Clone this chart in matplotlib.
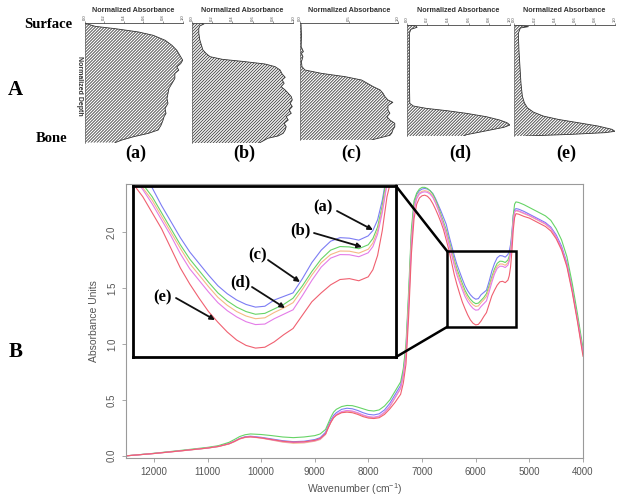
import matplotlib
matplotlib.use("Agg")
import matplotlib.pyplot as plt
from matplotlib.patches import Rectangle
from matplotlib.lines import Line2D
from matplotlib.collections import LineCollection

plt.rcParams['font.family'] = ['Liberation Sans', 'DejaVu Sans']
plt.rcParams['mathtext.default'] = 'regular'

W, H = 624, 501

# ---------------- DATA ----------------
wavenumber = [12500, 12000, 11500, 11000, 10800, 10600, 10500, 10400, 10300, 10200,
              10000, 9800, 9600, 9400, 9200, 9000, 8900, 8800, 8750, 8700,
              8650, 8600, 8500, 8400, 8300, 8200, 8100, 8000, 7900, 7800,
              7700, 7600, 7500, 7400, 7350, 7300, 7250, 7200, 7150, 7100,
              7050, 7000, 6950, 6900, 6850, 6800, 6750, 6700, 6650, 6600,
              6550, 6500, 6450, 6400, 6350, 6300, 6250, 6200, 6150, 6100,
              6050, 6000, 5950, 5900, 5850, 5800, 5750, 5700, 5650, 5600,
              5550, 5500, 5450, 5400, 5375, 5350, 5325, 5300, 5275, 5250,
              5200, 5100, 5000, 4900, 4800, 4700, 4600, 4500, 4400, 4300,
              4200, 4100, 4000]

spec_a = [0.0, 0.021, 0.045, 0.07, 0.085, 0.11, 0.13, 0.155, 0.17, 0.175,
          0.165, 0.15, 0.135, 0.126, 0.13, 0.145, 0.162, 0.21, 0.27, 0.32,
          0.36, 0.385, 0.415, 0.425, 0.42, 0.405, 0.385, 0.37, 0.365, 0.375,
          0.41, 0.47, 0.55, 0.63, 0.75, 0.96, 1.42, 1.97, 2.25, 2.335,
          2.37, 2.385, 2.39, 2.385, 2.37, 2.345, 2.30, 2.245, 2.19, 2.13,
          2.07, 1.97, 1.88, 1.79, 1.71, 1.645, 1.58, 1.52, 1.475, 1.44,
          1.415, 1.40, 1.405, 1.44, 1.46, 1.48, 1.56, 1.65, 1.72, 1.77,
          1.79, 1.787, 1.776, 1.80, 1.83, 1.89, 2.00, 2.15, 2.20, 2.21,
          2.205, 2.185, 2.16, 2.135, 2.11, 2.085, 2.045, 1.975, 1.875, 1.725,
          1.495, 1.225, 0.93]

spec_b = [0.0, 0.022, 0.048, 0.075, 0.09, 0.12, 0.145, 0.172, 0.188, 0.195,
          0.19, 0.18, 0.168, 0.162, 0.168, 0.18, 0.195, 0.235, 0.29, 0.345,
          0.39, 0.415, 0.44, 0.45, 0.448, 0.435, 0.42, 0.405, 0.40, 0.41,
          0.445, 0.50, 0.58, 0.66, 0.78, 1.0, 1.48, 2.02, 2.28, 2.35,
          2.385, 2.40, 2.40, 2.39, 2.37, 2.34, 2.29, 2.23, 2.16, 2.09,
          2.02, 1.93, 1.84, 1.75, 1.67, 1.605, 1.54, 1.48, 1.435, 1.40,
          1.375, 1.36, 1.365, 1.39, 1.415, 1.45, 1.52, 1.60, 1.67, 1.72,
          1.74, 1.738, 1.728, 1.75, 1.785, 1.85, 1.97, 2.15, 2.25, 2.27,
          2.265, 2.245, 2.22, 2.195, 2.17, 2.145, 2.105, 2.03, 1.93, 1.78,
          1.54, 1.26, 0.96]

spec_c = [0.0, 0.02, 0.043, 0.068, 0.082, 0.105, 0.125, 0.15, 0.163, 0.168,
          0.158, 0.14, 0.122, 0.112, 0.115, 0.13, 0.145, 0.19, 0.25, 0.30,
          0.34, 0.365, 0.39, 0.40, 0.395, 0.38, 0.36, 0.345, 0.34, 0.35,
          0.385, 0.44, 0.52, 0.60, 0.72, 0.92, 1.38, 1.92, 2.22, 2.31,
          2.35, 2.365, 2.37, 2.365, 2.35, 2.32, 2.27, 2.21, 2.14, 2.07,
          2.00, 1.91, 1.82, 1.73, 1.645, 1.58, 1.515, 1.455, 1.41, 1.375,
          1.35, 1.335, 1.34, 1.37, 1.395, 1.425, 1.50, 1.58, 1.65, 1.695,
          1.715, 1.714, 1.703, 1.725, 1.76, 1.83, 1.95, 2.10, 2.18, 2.19,
          2.185, 2.165, 2.145, 2.12, 2.095, 2.07, 2.03, 1.955, 1.855, 1.705,
          1.475, 1.205, 0.91]

spec_d = [0.0, 0.02, 0.044, 0.069, 0.083, 0.107, 0.128, 0.152, 0.166, 0.17,
          0.16, 0.143, 0.127, 0.118, 0.122, 0.135, 0.15, 0.195, 0.255, 0.305,
          0.345, 0.37, 0.395, 0.405, 0.40, 0.385, 0.365, 0.35, 0.345, 0.355,
          0.39, 0.445, 0.525, 0.605, 0.72, 0.90, 1.34, 1.88, 2.19, 2.30,
          2.34, 2.355, 2.36, 2.355, 2.34, 2.31, 2.26, 2.20, 2.13, 2.06,
          1.98, 1.89, 1.80, 1.70, 1.615, 1.55, 1.485, 1.425, 1.38, 1.345,
          1.318, 1.302, 1.305, 1.335, 1.36, 1.385, 1.465, 1.55, 1.625, 1.675,
          1.695, 1.694, 1.683, 1.705, 1.74, 1.81, 1.93, 2.09, 2.18, 2.195,
          2.19, 2.17, 2.15, 2.125, 2.10, 2.075, 2.035, 1.96, 1.86, 1.71,
          1.48, 1.21, 0.92]

spec_e = [0.0, 0.02, 0.044, 0.069, 0.083, 0.107, 0.128, 0.152, 0.166, 0.17,
          0.16, 0.145, 0.13, 0.122, 0.125, 0.138, 0.155, 0.195, 0.25, 0.30,
          0.34, 0.362, 0.385, 0.39, 0.385, 0.37, 0.35, 0.337, 0.333, 0.34,
          0.37, 0.42, 0.48, 0.55, 0.65, 0.82, 1.25, 1.80, 2.12, 2.25,
          2.305, 2.325, 2.33, 2.32, 2.295, 2.255, 2.205, 2.15, 2.09, 2.02,
          1.93, 1.84, 1.73, 1.62, 1.53, 1.45, 1.375, 1.315, 1.26, 1.215,
          1.185, 1.17, 1.175, 1.205, 1.245, 1.28, 1.355, 1.43, 1.48, 1.525,
          1.555, 1.56, 1.548, 1.57, 1.61, 1.69, 1.83, 2.02, 2.13, 2.165,
          2.16, 2.14, 2.125, 2.10, 2.075, 2.05, 2.01, 1.94, 1.84, 1.69,
          1.46, 1.19, 0.89]

series_labels = ['(a)', '(b)', '(c)', '(d)', '(e)']
series_colors = ['#7c7cf4', '#66d466', '#f5b985', '#e47ce8', '#f06070']

# depth profiles (normalized depth 0 = surface, 1 = bone)
depth_a = [0.0, 0.006, 0.028, 0.047, 0.075, 0.103, 0.144, 0.186, 0.228, 0.269,
           0.311, 0.339, 0.367, 0.394, 0.422, 0.464, 0.506, 0.547, 0.589, 0.631,
           0.672, 0.714, 0.756, 0.783, 0.811, 0.853, 0.894, 0.922, 0.95, 0.978, 1.0]
abs_a = [0.0, 0.02, 0.11, 0.31, 0.55, 0.70, 0.82, 0.89, 0.94, 0.97,
         1.0, 0.98, 0.94, 0.96, 0.92, 0.92, 0.89, 0.86, 0.85, 0.84,
         0.85, 0.82, 0.83, 0.81, 0.80, 0.78, 0.75, 0.65, 0.50, 0.38, 0.31]

depth_b = [0.0, 0.006, 0.022, 0.042, 0.083, 0.139, 0.194, 0.222, 0.25, 0.278,
           0.3, 0.319, 0.339, 0.361, 0.389, 0.422, 0.45, 0.472, 0.5, 0.528,
           0.556, 0.583, 0.611, 0.639, 0.667, 0.694, 0.722, 0.75, 0.778, 0.806,
           0.833, 0.861, 0.889, 0.917, 0.939, 0.958, 1.0]
abs_b = [0.10, 0.12, 0.08, 0.07, 0.07, 0.08, 0.10, 0.11, 0.14, 0.18,
         0.30, 0.52, 0.72, 0.82, 0.87, 0.89, 0.92, 0.89, 0.91, 0.88,
         0.92, 0.95, 0.98, 0.99, 0.97, 0.99, 0.96, 0.98, 0.93, 0.95,
         0.91, 0.93, 0.92, 0.90, 0.85, 0.75, 0.66]

depth_c = [0.0, 0.1, 0.2, 0.243, 0.257, 0.286, 0.329, 0.371, 0.4, 0.429,
           0.457, 0.486, 0.543, 0.571, 0.6, 0.629, 0.657, 0.677, 0.706, 0.743,
           0.771, 0.8, 0.829, 0.857, 0.886, 0.914, 0.94, 0.96, 1.0]
abs_c = [0.01, 0.015, 0.012, 0.035, 0.015, 0.03, 0.015, 0.02, 0.05, 0.22,
         0.46, 0.63, 0.75, 0.82, 0.85, 0.87, 0.90, 0.95, 0.90, 0.90,
         0.92, 0.89, 0.92, 0.97, 0.97, 0.95, 0.94, 0.92, 0.73]

depth_d = [0.0, 0.009, 0.021, 0.039, 0.075, 0.3, 0.5, 0.706, 0.730, 0.751,
           0.772, 0.796, 0.826, 0.856, 0.880, 0.901, 0.922, 0.946, 0.970, 0.988, 1.0]
abs_d = [0.02, 0.09, 0.10, 0.04, 0.026, 0.026, 0.026, 0.03, 0.065, 0.19,
         0.39, 0.58, 0.77, 0.90, 0.97, 1.0, 0.94, 0.81, 0.68, 0.58, 0.55]

depth_e = [0.0, 0.015, 0.027, 0.075, 0.224, 0.373, 0.522, 0.642, 0.701, 0.746,
           0.785, 0.821, 0.851, 0.881, 0.910, 0.940, 0.958, 0.970, 0.985, 0.994, 1.0]
abs_e = [0.02, 0.14, 0.06, 0.04, 0.046, 0.056, 0.066, 0.08, 0.10, 0.13,
         0.19, 0.29, 0.44, 0.64, 0.83, 0.97, 1.0, 0.90, 0.57, 0.30, 0.11]

profile_depths = [depth_a, depth_b, depth_c, depth_d, depth_e]
profile_abs = [abs_a, abs_b, abs_c, abs_d, abs_e]
profile_ticks = [[0, 0.2, 0.4, 0.6, 0.8, 1.0], [0, 0.2, 0.4, 0.6, 0.8, 1.0],
                 [0, 0.5, 1.0], [0, 0.2, 0.4, 0.6, 0.8, 1.0], [0, 0.2, 0.4, 0.6, 0.8, 1.0]]

xticks_main = [12000, 11000, 10000, 9000, 8000, 7000, 6000, 5000, 4000]
yticks_main = [0.0, 0.5, 1.0, 1.5, 2.0]

# ---------------- FIGURE ----------------
fig = plt.figure(figsize=(W / 100, H / 100), dpi=100)
fig.patch.set_facecolor('white')


def rect(l, t, r, b):
    return [l / W, 1 - b / H, (r - l) / W, (b - t) / H]


def P(x, y):
    return (x / W, 1 - y / H)


SERIF = ['Liberation Serif', 'DejaVu Serif']

# ---- Panel A: depth profiles ----
prof_boxes = [(84.5, 23, 182.7, 142.7), (191.7, 23.3, 293.3, 143.3), (300, 23.3, 397.7, 140),
              (406.7, 25, 510, 136), (514.3, 25, 615, 136)]
HATCH_STEP = 3.0  # px between hatch lines (horizontal)
for i, (box, dep, ab, tks) in enumerate(zip(prof_boxes, profile_depths, profile_abs, profile_ticks)):
    axp = fig.add_axes(rect(*box))
    poly = axp.fill_betweenx(dep, 0, ab, facecolor='white', edgecolor='none', linewidth=0)
    # dense diagonal hatch, clipped to the filled area
    wpx = box[2] - box[0]
    hpx = box[3] - box[1]
    n = int((wpx + hpx) / HATCH_STEP) + 2
    segs = []
    for k in range(n):
        x0 = (-hpx + k * HATCH_STEP) / wpx
        segs.append([(x0, 0.0), (x0 + hpx / wpx, 1.0)])
    lc = LineCollection(segs, colors='#4a4a4a', linewidths=0.65, transform=axp.transAxes)
    axp.add_collection(lc)
    lc.set_clip_path(poly.get_paths()[0], poly.get_transform())
    axp.plot(ab, dep, color='#333333', lw=0.6)
    axp.set_xlim(0, 1)
    axp.set_ylim(1, 0)
    for s in ['right', 'bottom']:
        axp.spines[s].set_visible(False)
    axp.spines['top'].set_linewidth(0.6)
    axp.spines['top'].set_color('#444444')
    axp.spines['left'].set_linewidth(0.5)
    axp.spines['left'].set_color('#666666')
    axp.axhline(1, color='#555555', lw=0.6, ls=':')
    axp.xaxis.tick_top()
    axp.set_xticks(tks)
    axp.set_xticklabels(['%.1f' % t for t in tks], rotation=90, fontsize=3)
    axp.tick_params(axis='x', length=1.5, width=0.4, pad=0.5, colors='#444444')
    axp.set_yticks([])
    cx = (box[0] + box[2]) / 2
    fig.text(*P(cx, 10), 'Normalized Absorbance', ha='center', va='center',
             fontsize=5.2, fontweight='bold', color='#333333')
    fig.text(*P(cx + 2, 153), series_labels[i], ha='center', va='center',
             fontsize=13, fontweight='bold', family=SERIF)

fig.text(*P(79, 86), 'Normalized Depth', rotation=-90, ha='center', va='center',
         fontsize=5, fontweight='bold', color='#333333')
fig.text(*P(48, 25), 'Surface', ha='center', va='center', fontsize=10.5,
         fontweight='bold', family=SERIF)
fig.text(*P(52, 138), 'Bone', ha='center', va='center', fontsize=10.5,
         fontweight='bold', family=SERIF)
fig.text(*P(15, 90), 'A', ha='center', va='center', fontsize=15,
         fontweight='bold', family=SERIF)
fig.text(*P(16, 352), 'B', ha='center', va='center', fontsize=15,
         fontweight='bold', family=SERIF)

# ---- Panel B: spectra ----
spectra = [spec_a, spec_b, spec_c, spec_d, spec_e]
ax = fig.add_axes(rect(126, 184, 583, 458))
for sp, c in zip(spectra, series_colors):
    ax.plot(wavenumber, sp, color=c, lw=0.8)
ax.set_xlim(12520, 4000)
ax.set_ylim(-0.02, 2.43)
ax.set_xticks(xticks_main)
ax.set_yticks(yticks_main)
ax.set_xticklabels([str(t) for t in xticks_main])
ax.set_yticklabels(['%.1f' % t for t in yticks_main], rotation=90, va='center')
for s in ax.spines.values():
    s.set_color('#9a9a9a')
    s.set_linewidth(0.8)
ax.tick_params(colors='#9a9a9a', labelcolor='#555555', labelsize=7, length=3, width=0.6)
ax.set_xlabel('Wavenumber (cm$^{-1}$)', color='#555555', fontsize=7.5, labelpad=3)
ax.set_ylabel('Absorbance Units', color='#555555', fontsize=7.5, labelpad=6)

# small highlight box in main plot
ax.add_patch(Rectangle((5247, 1.152), 6530 - 5247, 1.83 - 1.152, fill=False,
                       ec='black', lw=1.8, zorder=5))

# inset (zoomed view)
axi = fig.add_axes(rect(133, 186, 396, 357))
axi.set_zorder(3)
for sp, c in zip(spectra, series_colors):
    axi.plot(wavenumber, sp, color=c, lw=0.8)
axi.set_xlim(6652, 5252)
axi.set_ylim(1.12, 2.08)
axi.set_xticks([])
axi.set_yticks([])
for s in axi.spines.values():
    s.set_color('black')
    s.set_linewidth(2)

# connector lines
fig.add_artist(Line2D([396 / W, 447 / W], [1 - 186 / H, 1 - 251 / H], color='black', lw=1.8))
fig.add_artist(Line2D([396 / W, 447 / W], [1 - 357 / H, 1 - 327 / H], color='black', lw=1.8))

# annotation arrows in inset
label_pos = [(323, 207), (300, 230), (258, 255), (240, 282), (163, 297)]
arrow_tail = [(337, 211), (314, 233), (268, 260), (252, 287), (176, 298)]
arrow_tip = [(373, 230), (362, 247), (300, 282), (285, 308), (215, 320)]
for lab, lp, tl, tp in zip(series_labels, label_pos, arrow_tail, arrow_tip):
    fig.text(*P(*lp), lab, ha='center', va='center', fontsize=12,
             fontweight='bold', family=SERIF, zorder=10)
    axi.annotate('', xy=P(*tp), xycoords='figure fraction',
                 xytext=P(*tl), textcoords='figure fraction',
                 arrowprops=dict(arrowstyle='-|>', color='#111111', lw=1.3,
                                 mutation_scale=7, shrinkA=0, shrinkB=0),
                 annotation_clip=False)

fig.savefig('out.png', dpi=100)
